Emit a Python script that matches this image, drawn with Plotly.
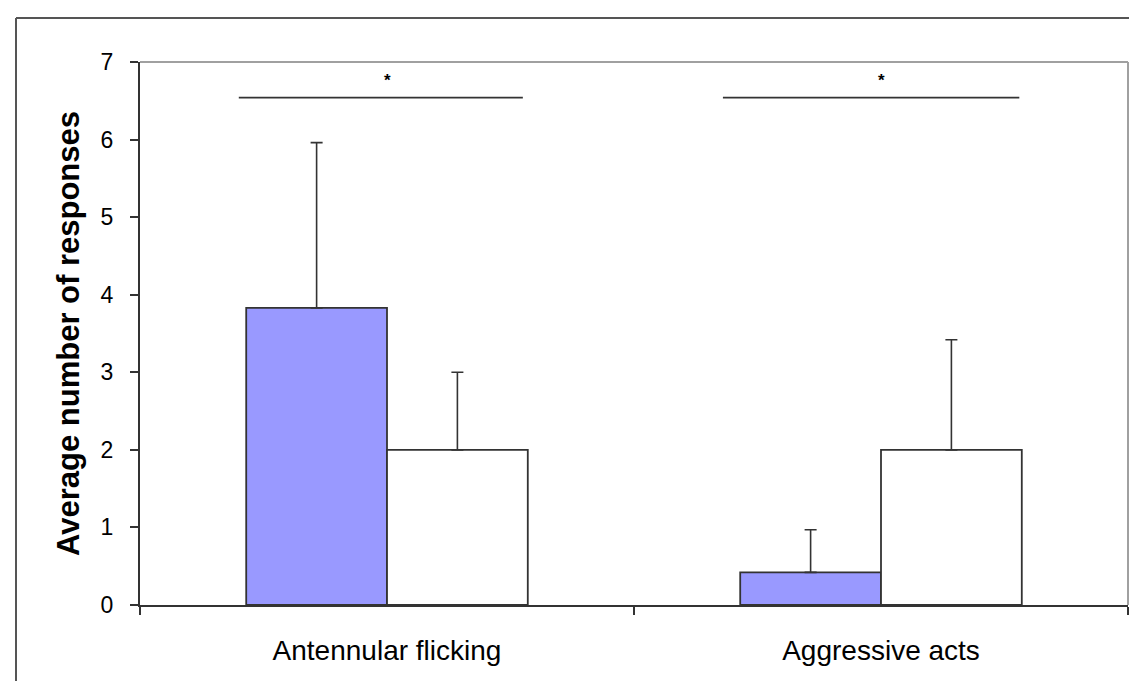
import plotly.graph_objects as go

categories = ["Antennular flicking", "Aggressive acts"]
blue_values = [3.83, 0.42]
blue_errors = [2.13, 0.55]
white_values = [2.0, 2.0]
white_errors = [1.0, 1.42]
sig_line_y = 6.54
sig_star_y = 6.76
sig_left_span = [0.30, 0.32]
sig_right_span = [0.275, 0.28]
y_ticks = [0, 1, 2, 3, 4, 5, 6, 7]

FONT = "Arial, Liberation Sans, sans-serif"
EDGE = "#333333"

# The page body adds an 8px margin, so the figure is sized/placed to compensate.
W, H = 1121, 673
L, R, T, B = 132, 1, 54, 76
PW, PH = W - L - R, H - T - B

fig = go.Figure()
fig.add_trace(go.Bar(
    x=categories, y=blue_values, name="Blue",
    marker=dict(color="#9999FF", line=dict(color=EDGE, width=1.8)),
    error_y=dict(type="data", symmetric=False, array=blue_errors,
                 arrayminus=[0] * len(blue_errors), color=EDGE, thickness=1.6, width=6),
))
fig.add_trace(go.Bar(
    x=categories, y=white_values, name="White",
    marker=dict(color="#FFFFFF", line=dict(color=EDGE, width=1.8)),
    error_y=dict(type="data", symmetric=False, array=white_errors,
                 arrayminus=[0] * len(white_errors), color=EDGE, thickness=1.6, width=6),
))

shapes = []
annotations = []
for i in range(len(categories)):
    shapes.append(dict(type="line", xref="x", yref="y",
                       x0=i - sig_left_span[i], x1=i + sig_right_span[i],
                       y0=sig_line_y, y1=sig_line_y, line=dict(color=EDGE, width=1.8)))
    annotations.append(dict(x=i, y=sig_star_y, xref="x", yref="y", text="<b>*</b>", showarrow=False,
                            font=dict(family=FONT, size=17, color="black")))

# plot-area top & right border (gray)
shapes.append(dict(type="line", xref="paper", yref="paper", x0=0, x1=1, y0=1, y1=1,
                   line=dict(color="#a0a0a0", width=2)))
shapes.append(dict(type="line", xref="paper", yref="paper", x0=1, x1=1, y0=0, y1=1,
                   line=dict(color="#a0a0a0", width=2)))


def sx(xs):  # screen x -> paper
    return (xs - 8 - L) / PW


def sy(ys):  # screen y -> paper
    return (H - B - (ys - 8)) / PH


# outer frame lines
shapes.append(dict(type="line", xref="paper", yref="paper", x0=sx(16), x1=sx(1140),
                   y0=sy(18), y1=sy(18), line=dict(color="#555555", width=2)))
shapes.append(dict(type="line", xref="paper", yref="paper", x0=sx(16), x1=sx(16),
                   y0=sy(18), y1=sy(700), line=dict(color="#555555", width=2)))

fig.update_layout(
    width=W, height=H,
    margin=dict(l=L, r=R, t=T, b=B),
    paper_bgcolor="white", plot_bgcolor="white",
    barmode="group", bargap=0.43, bargroupgap=0,
    showlegend=False,
    shapes=shapes, annotations=annotations,
    font=dict(family=FONT, color="black"),
)
fig.update_xaxes(
    showline=True, linecolor=EDGE, linewidth=2,
    ticks="outside", tickson="boundaries", ticklen=8, tickwidth=1.5, tickcolor=EDGE,
    tickfont=dict(family=FONT, size=28, color="black"),
    ticklabelstandoff=19,
    showgrid=False, range=[-0.5, 1.5],
)
fig.update_yaxes(
    range=[0, 7], tickvals=y_ticks,
    showline=True, linecolor=EDGE, linewidth=2,
    ticks="outside", ticklen=8, tickwidth=1.5, tickcolor=EDGE,
    tickfont=dict(family=FONT, size=23, color="black"),
    ticklabelstandoff=12,
    showgrid=False, zeroline=False,
    title=dict(text="<b>Average number of responses</b>",
               font=dict(family=FONT, size=31, color="black"), standoff=12),
)

fig.write_html("out.html")
